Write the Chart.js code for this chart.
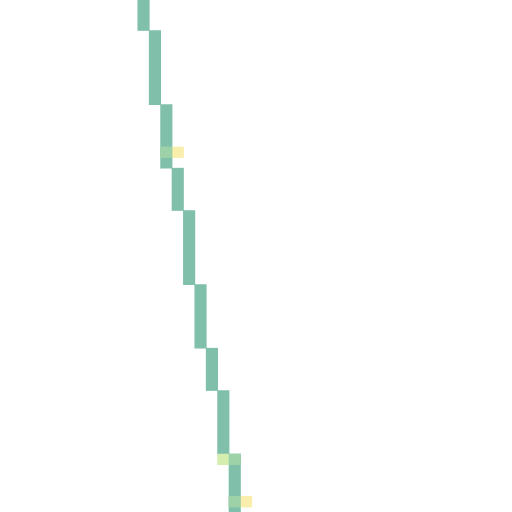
<!DOCTYPE html>
<html>
<head>
<meta charset="utf-8">
<script src="https://cdn.jsdelivr.net/npm/chart.js@4/dist/chart.umd.min.js"></script>
<style>
  html, body { margin: 0; padding: 0; background: #fff; }
  #wrap { width: 512px; height: 512px; }
</style>
</head>
<body>
<div id="wrap"><canvas id="chart" width="512" height="512"></canvas></div>
<script>
// path columns and the row span each one covers
const pathCols = [0, 1, 2, 3, 4, 5, 6, 7, 8];
const pathStart = [-3, 0, 7, 13, 17, 24, 30, 34, 40];
const pathEnd = [0, 7, 13, 17, 24, 30, 34, 40, 47];

// highlighted cells (column, row)
const yellowCols = [3, 9];
const yellowRows = [11, 44];
const mixCols = [2, 8, 8];
const mixRows = [11, 40, 44];
const lightCols = [7];
const lightRows = [40];

const cells = (cols, rows) => cols.map((c, i) => ({ x: c, y: [rows[i], rows[i] + 1] }));

new Chart(document.getElementById('chart'), {
  type: 'bar',
  data: {
    datasets: [
      {
        label: 'path',
        data: pathCols.map((c, i) => ({ x: c, y: [pathStart[i], pathEnd[i]] })),
        backgroundColor: '#80c0aa',
        order: 3
      },
      {
        label: 'mix',
        data: cells(mixCols, mixRows),
        backgroundColor: '#9dd1a8',
        order: 1
      },
      {
        label: 'yellow',
        data: cells(yellowCols, yellowRows),
        backgroundColor: '#f9eeab',
        order: 1
      },
      {
        label: 'light',
        data: cells(lightCols, lightRows),
        backgroundColor: '#d6edb0',
        order: 1
      }
    ]
  },
  options: {
    responsive: false,
    animation: false,
    devicePixelRatio: 1,
    layout: { padding: 0 },
    datasets: {
      bar: { grouped: false, barThickness: 11.5, borderWidth: 0, borderSkipped: false }
    },
    plugins: { legend: { display: false }, tooltip: { enabled: false } },
    scales: {
      x: { type: 'linear', display: false, offset: false, min: -12.59, max: 32.32 },
      y: { type: 'linear', display: false, reverse: true, min: -2.88, max: 45.47 }
    }
  }
});
</script>
</body>
</html>
